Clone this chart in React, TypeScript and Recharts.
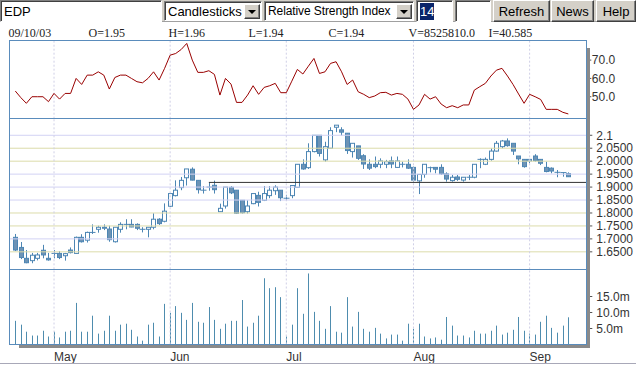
import React from 'react';
import { ComposedChart, Bar, Line, XAxis, YAxis, ReferenceLine } from 'recharts';

// ---------- data ----------
const opens = [
  1.706, 1.667, 1.625, 1.616, 1.625, 1.656, 1.625, 1.644, 1.644, 1.635,
  1.657, 1.644, 1.706, 1.695, 1.725, 1.737, 1.741, 1.738, 1.689, 1.737,
  1.756, 1.756, 1.756, 1.737, 1.737, 1.745, 1.776, 1.768, 1.826, 1.867,
  1.898, 1.936, 1.969, 1.926, 1.888, 1.900, 1.907, 1.805, 1.827, 1.899,
  1.888, 1.849, 1.805, 1.836, 1.868, 1.849, 1.867, 1.886, 1.888, 1.857,
  1.867, 1.899, 1.988, 1.975, 2.037, 2.100, 2.005, 2.050, 2.131, 2.121,
  2.108, 2.037, 2.059, 2.021, 1.988, 1.988, 1.988, 1.988, 2.001, 1.976,
  1.988, 1.988, 1.976, 1.924, 1.949, 1.975, 1.976, 1.976, 1.951, 1.925,
  1.939, 1.927, 1.938, 1.938, 2.007, 1.988, 2.007, 2.039, 2.056, 2.078,
  2.069, 2.020, 2.007, 2.001, 2.020, 2.007, 1.976, 1.973, 1.957, 1.956, 1.952,
];
const highs = [
  1.719, 1.688, 1.657, 1.646, 1.646, 1.677, 1.646, 1.657, 1.653, 1.646,
  1.667, 1.709, 1.718, 1.728, 1.756, 1.751, 1.756, 1.751, 1.745, 1.764,
  1.776, 1.776, 1.760, 1.745, 1.745, 1.799, 1.780, 1.837, 1.875, 1.926,
  1.939, 1.970, 1.976, 1.926, 1.904, 1.917, 1.925, 1.836, 1.900, 1.904,
  1.888, 1.849, 1.849, 1.875, 1.882, 1.904, 1.904, 1.907, 1.888, 1.870,
  1.908, 1.988, 2.007, 2.069, 2.100, 2.100, 2.075, 2.131, 2.139, 2.131,
  2.108, 2.069, 2.059, 2.027, 2.007, 2.018, 2.011, 2.005, 2.018, 2.018,
  1.998, 2.007, 1.979, 1.949, 1.988, 1.979, 1.976, 1.988, 1.957, 1.947,
  1.947, 1.938, 1.947, 1.988, 2.011, 2.014, 2.050, 2.078, 2.082, 2.088,
  2.069, 2.020, 2.007, 2.007, 2.027, 2.007, 1.998, 1.976, 1.966, 1.957, 1.957,
];
const lows = [
  1.653, 1.622, 1.606, 1.606, 1.617, 1.625, 1.616, 1.625, 1.622, 1.616,
  1.644, 1.644, 1.686, 1.686, 1.719, 1.724, 1.734, 1.689, 1.686, 1.724,
  1.737, 1.745, 1.734, 1.725, 1.706, 1.737, 1.754, 1.764, 1.823, 1.864,
  1.888, 1.906, 1.926, 1.875, 1.875, 1.886, 1.875, 1.805, 1.817, 1.873,
  1.796, 1.798, 1.798, 1.834, 1.825, 1.846, 1.857, 1.870, 1.846, 1.849,
  1.857, 1.898, 1.967, 1.970, 2.034, 2.018, 1.998, 2.050, 2.112, 2.099,
  2.028, 2.014, 2.005, 1.970, 1.966, 1.973, 1.973, 1.973, 1.973, 1.975,
  1.976, 1.970, 1.921, 1.873, 1.936, 1.957, 1.953, 1.947, 1.921, 1.921,
  1.924, 1.921, 1.927, 1.934, 1.973, 1.985, 2.002, 2.037, 2.050, 2.056,
  2.024, 1.988, 1.975, 1.992, 1.998, 1.985, 1.957, 1.953, 1.938, 1.940, 1.940,
];
const closes = [
  1.657, 1.628, 1.608, 1.637, 1.638, 1.638, 1.619, 1.644, 1.628, 1.643,
  1.647, 1.706, 1.689, 1.725, 1.725, 1.745, 1.745, 1.697, 1.745, 1.756,
  1.756, 1.746, 1.741, 1.737, 1.745, 1.776, 1.759, 1.807, 1.875, 1.888,
  1.926, 1.970, 1.927, 1.890, 1.888, 1.900, 1.890, 1.818, 1.900, 1.878,
  1.799, 1.801, 1.827, 1.875, 1.841, 1.875, 1.888, 1.900, 1.859, 1.857,
  1.906, 1.988, 1.970, 2.037, 2.100, 2.030, 2.056, 2.118, 2.139, 2.112,
  2.041, 2.069, 2.011, 1.989, 1.973, 1.979, 2.001, 1.998, 1.989, 2.001,
  1.988, 1.973, 1.927, 1.949, 1.988, 1.975, 1.969, 1.951, 1.931, 1.938,
  1.930, 1.938, 1.938, 1.988, 2.007, 2.007, 2.039, 2.069, 2.078, 2.060,
  2.039, 2.009, 1.979, 2.007, 2.002, 1.992, 1.960, 1.962, 1.957, 1.956, 1.940,
];
// volume in millions
const volumes = [
  7.4, 6.2, 4.0, 2.8, 2.8, 4.3, 2.5, 4.0, 2.2, 4.0,
  4.3, 13.0, 4.0, 4.0, 9.0, 3.4, 4.3, 9.0, 4.3, 6.2,
  6.5, 4.6, 2.5, 1.2, 6.2, 6.8, 2.5, 12.7, 9.9, 12.0,
  9.9, 7.7, 13.0, 7.1, 6.8, 11.7, 7.7, 4.9, 6.5, 7.4,
  7.4, 13.9, 5.6, 6.8, 9.0, 20.7, 17.6, 17.9, 14.8, 2.5,
  6.2, 17.6, 9.6, 22.2, 10.2, 7.4, 4.9, 12.0, 4.0, 3.7,
  14.8, 5.6, 10.2, 4.9, 4.0, 5.2, 3.4, 1.9, 3.1, 3.1,
  1.2, 6.5, 4.9, 6.5, 2.5, 1.9, 2.2, 1.5, 8.6, 5.9,
  2.8, 2.8, 2.2, 4.3, 3.4, 3.4, 4.3, 5.9, 3.1, 3.7,
  4.6, 8.6, 4.3, 3.4, 3.1, 7.1, 9.0, 5.2, 3.7, 5.9, 8.5,
];
const rsiValues = [
  53.1, 49.5, 46.4, 50.0, 50.0, 50.0, 47.3, 51.8, 48.7, 51.8,
  51.8, 60.0, 56.7, 61.8, 61.8, 63.6, 61.8, 54.2, 60.5, 61.8,
  61.8, 60.0, 58.2, 57.6, 60.0, 63.6, 59.1, 65.5, 72.7, 73.6,
  75.8, 79.1, 70.0, 63.3, 63.3, 64.2, 62.2, 50.9, 60.0, 56.9,
  46.9, 46.9, 50.9, 56.0, 51.3, 55.1, 56.0, 57.3, 52.2, 52.2,
  58.5, 64.9, 62.4, 66.7, 70.9, 62.7, 63.6, 68.2, 69.1, 63.6,
  56.7, 59.1, 52.7, 51.3, 49.5, 50.4, 52.2, 52.4, 50.9, 51.8,
  51.3, 48.7, 43.1, 45.5, 51.3, 48.7, 50.0, 46.0, 44.0, 45.1,
  44.0, 45.5, 45.5, 53.6, 55.5, 57.3, 61.3, 64.5, 65.5, 61.3,
  56.7, 51.5, 46.4, 51.3, 50.0, 48.5, 43.1, 43.1, 43.1, 41.5, 40.6,
];
const monthTicks = [7, 28, 49, 72, 93];
const monthLabels = ['May', 'Jun', 'Jul', 'Aug', 'Sep'];
const priceTicks = [1.65, 1.7, 1.75, 1.8, 1.85, 1.9, 1.95, 2.0, 2.05, 2.1];
const rsiTicks = [50, 60, 70];
const volumeTicks = [5, 10, 15];
const supportLevel = 1.918;
const supportStartIndex = 35;

const infoItems = ['09/10/03', 'O=1.95', 'H=1.96', 'L=1.94', 'C=1.94', 'V=8525810.0', 'I=40.585'];

const data = opens.map((o, i) => ({
  i,
  o,
  h: highs[i],
  l: lows[i],
  c: closes[i],
  range: [lows[i], highs[i]],
  vol: volumes[i],
  rsi: rsiValues[i],
}));

// ---------- styling ----------
const SANS = "'Liberation Sans', Arial, sans-serif";
const SERIF = "'Liberation Serif', 'Times New Roman', serif";
const W = 636;
const H = 365;
const X_DOMAIN: [number, number] = [-1.05, 103.25];
const AXIS_W = 49.7;
const CANDLE = '#4d86b4';
const KHAKI = '#dcdcaa';
const LAV = '#d2d2f4';
const khakiSet = [1.65, 1.75, 1.8, 2.0, 2.05];

const Candle = (props: any) => {
  const { x, y, width, height, payload } = props;
  if (!payload) return null;
  const { o, h, l, c } = payload;
  const cx = Math.round(x + width / 2) + 0.5;
  const k = h - l !== 0 ? height / (h - l) : 0;
  const yOf = (v: number) => y + (h - v) * k;
  const top = yOf(Math.max(o, c));
  const bot = yOf(Math.min(o, c));
  const up = c > o;
  return (
    <g>
      <line x1={cx} x2={cx} y1={y} y2={y + height} stroke={CANDLE} strokeWidth={1} />
      {o === c ? (
        <line x1={cx - 3} x2={cx + 3} y1={top} y2={top} stroke={CANDLE} strokeWidth={1} />
      ) : (
        <rect
          x={cx - 2}
          y={top}
          width={4}
          height={Math.max(bot - top, 1)}
          fill={up ? '#ffffff' : '#6d93b5'}
          stroke={CANDLE}
          strokeWidth={1}
        />
      )}
    </g>
  );
};

const VolBar = (props: any) => {
  const { x, y, width, height } = props;
  const cx = Math.round(x + width / 2);
  return <rect x={cx} y={y} width={1} height={height} fill="#4e8cae" />;
};

const MonthTick = (props: any) => {
  const { x, y, payload } = props;
  const idx = monthTicks.indexOf(payload.value);
  return (
    <text x={x} y={y + 16.5} textAnchor="start" fontSize={12} fontFamily={SANS} fill="#333">
      {monthLabels[idx]}
    </text>
  );
};

const tickStyle = { fontSize: 12, fill: '#333', fontFamily: SANS };

const monthGrid = monthTicks.map((m) => (
  <ReferenceLine key={'m' + m} x={m} stroke="#cfcfe6" strokeDasharray="2 2" />
));

const inset: React.CSSProperties = {
  position: 'absolute',
  boxSizing: 'border-box',
  background: '#fff',
  borderTop: '1px solid #808080',
  borderLeft: '1px solid #808080',
  borderBottom: '1px solid #ffffff',
  borderRight: '1px solid #ffffff',
  boxShadow: 'inset 1px 1px 0 #404040',
  fontFamily: SANS,
  fontSize: 13,
  color: '#000',
  display: 'flex',
  alignItems: 'center',
  whiteSpace: 'nowrap',
};
const outset: React.CSSProperties = {
  position: 'absolute',
  boxSizing: 'border-box',
  background: '#d4d0c8',
  borderTop: '1px solid #ffffff',
  borderLeft: '1px solid #ffffff',
  borderBottom: '1px solid #404040',
  borderRight: '1px solid #404040',
  boxShadow: 'inset -1px -1px 0 #808080',
  fontFamily: SANS,
  fontSize: 13,
  color: '#000',
  display: 'flex',
  alignItems: 'center',
  justifyContent: 'center',
};

const Arrow = ({ left }: { left: number }) => (
  <div style={{ ...outset, left, top: 2, width: 16, height: 15 }}>
    <div
      style={{
        width: 0,
        height: 0,
        borderLeft: '4px solid transparent',
        borderRight: '4px solid transparent',
        borderTop: '4px solid #000',
      }}
    />
  </div>
);

const line = (style: React.CSSProperties) => <div style={{ position: 'absolute', ...style }} />;

export default function App() {
  return (
    <div style={{ position: 'absolute', left: 0, top: 0, width: W, height: H, background: '#fff', overflow: 'hidden' }}>
      {/* toolbar */}
      <div style={{ position: 'absolute', left: 0, top: 0, width: W, height: 21, background: '#d4d0c8', borderBottom: '1px solid #a0a0a0' }} />
      <div style={{ ...inset, left: 0, top: 0, width: 162, height: 22, paddingLeft: 3 }}>EDP</div>
      <div style={{ ...inset, left: 164, top: 1, width: 98, height: 20, paddingLeft: 3 }}>
        Candlesticks
        <Arrow left={79} />
      </div>
      <div style={{ ...inset, left: 264, top: 1, width: 150, height: 20, paddingLeft: 3, fontSize: 12, letterSpacing: -0.1 }}>
        Relative Strength Index
        <Arrow left={131} />
      </div>
      <div style={{ ...inset, left: 416, top: 0, width: 37, height: 22, paddingLeft: 3 }}>
        <span style={{ background: '#0a246a', color: '#fff', padding: '1px 0' }}>14</span>
      </div>
      <div style={{ ...inset, left: 455, top: 0, width: 36, height: 22 }} />
      <div style={{ ...outset, left: 493, top: 0, width: 57, height: 22 }}>Refresh</div>
      <div style={{ ...outset, left: 551, top: 0, width: 43, height: 22 }}>News</div>
      <div style={{ ...outset, left: 596, top: 0, width: 40, height: 22 }}>Help</div>

      {/* info line */}
      {infoItems.map((t, k) => (
        <div
          key={t}
          style={{
            position: 'absolute',
            left: 8.5 + k * 80,
            top: 27,
            fontFamily: SERIF,
            fontSize: 12,
            lineHeight: '12px',
            color: '#222',
            whiteSpace: 'nowrap',
          }}
        >
          {t}
        </div>
      ))}

      {/* RSI panel */}
      <div style={{ position: 'absolute', left: 0, top: 0 }}>
        <ComposedChart width={W} height={H} data={data} margin={{ top: 40.5, bottom: H - 118.7, left: 9.5, right: 0 }}>
          <XAxis dataKey="i" type="number" domain={X_DOMAIN} allowDataOverflow hide />
          <YAxis
            orientation="right"
            domain={[38, 80.7]}
            ticks={rsiTicks}
            interval={0}
            allowDataOverflow
            width={AXIS_W}
            axisLine={false}
            tickLine={{ stroke: '#555' }}
            tickSize={5}
            tickMargin={0.5}
            tick={tickStyle}
            tickFormatter={(v: number) => v.toFixed(1)}
          />
          {monthGrid}
          <Line dataKey="rsi" type="linear" stroke="#990000" strokeWidth={1} dot={false} isAnimationActive={false} />
        </ComposedChart>
      </div>

      {/* Price panel */}
      <div style={{ position: 'absolute', left: 0, top: 0 }}>
        <ComposedChart width={W} height={H} data={data} margin={{ top: 118.7, bottom: H - 269.3, left: 9.5, right: 0 }}>
          <XAxis dataKey="i" type="number" domain={X_DOMAIN} allowDataOverflow hide />
          <YAxis
            orientation="right"
            domain={[1.5826, 2.164]}
            ticks={priceTicks}
            interval={0}
            allowDataOverflow
            width={AXIS_W}
            axisLine={false}
            tickLine={{ stroke: '#555' }}
            tickSize={6}
            tickMargin={4}
            tick={tickStyle}
            tickFormatter={(v: number) => (Math.abs(v - 2.1) < 1e-9 ? '2.1' : v.toFixed(4))}
          />
          {priceTicks.map((p) => (
            <ReferenceLine key={'p' + p} y={p} stroke={khakiSet.includes(p) ? KHAKI : LAV} strokeWidth={1} />
          ))}
          {monthGrid}
          <ReferenceLine
            segment={[
              { x: supportStartIndex, y: supportLevel },
              { x: X_DOMAIN[1], y: supportLevel },
            ]}
            stroke="#333"
            strokeWidth={1}
          />
          <Bar dataKey="range" barSize={5} shape={<Candle />} isAnimationActive={false} />
        </ComposedChart>
      </div>

      {/* Volume panel */}
      <div style={{ position: 'absolute', left: 0, top: 0 }}>
        <ComposedChart width={W} height={H} data={data} margin={{ top: 269.3, bottom: 0, left: 9.5, right: 0 }}>
          <XAxis
            dataKey="i"
            type="number"
            domain={X_DOMAIN}
            allowDataOverflow
            height={H - 344.5}
            ticks={monthTicks}
            interval={0}
            axisLine={false}
            tickLine={false}
            tickSize={0}
            tickMargin={0}
            tick={<MonthTick />}
          />
          <YAxis
            orientation="right"
            domain={[0, 23.5]}
            ticks={volumeTicks}
            interval={0}
            allowDataOverflow
            width={AXIS_W}
            axisLine={false}
            tickLine={{ stroke: '#555' }}
            tickSize={6}
            tickMargin={4}
            tick={tickStyle}
            tickFormatter={(v: number) => `${v.toFixed(1)}m`}
          />
          {monthGrid}
          <Bar dataKey="vol" barSize={1} shape={<VolBar />} isAnimationActive={false} />
        </ComposedChart>
      </div>

      {/* frame */}
      {line({ left: 9, top: 40, width: 578, height: 1, background: '#5a8cbc' })}
      {line({ left: 9, top: 118, width: 578, height: 1, background: '#5a8cbc' })}
      {line({ left: 9, top: 269, width: 578, height: 1, background: '#5a8cbc' })}
      {line({ left: 9, top: 344, width: 578, height: 1, background: '#5a8cbc' })}
      {line({ left: 9, top: 40, width: 1, height: 305, background: '#5a8cbc' })}
      {line({ left: 586, top: 40, width: 1, height: 305, background: '#5a8cbc' })}
      {/* shadow */}
      {line({ left: 587, top: 48, width: 2.5, height: 299.5, background: '#8a8a8a' })}
      {line({ left: 19, top: 345, width: 570.5, height: 2.5, background: '#8a8a8a' })}
      {/* bottom window line */}
      {line({ left: 0, top: 363, width: W, height: 1, background: '#a8a8b8' })}
    </div>
  );
}
